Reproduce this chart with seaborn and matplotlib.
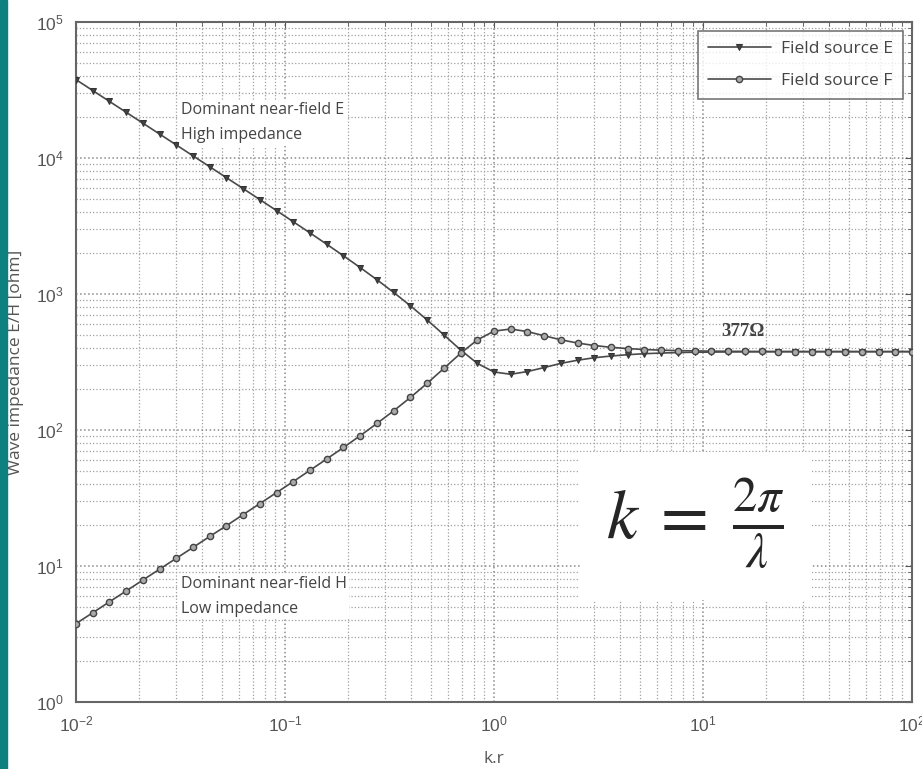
import numpy as np
import pandas as pd
import seaborn as sns
import matplotlib.pyplot as plt
from matplotlib.patches import Rectangle

# k.r sample points
kr = [0.01, 0.01202, 0.01445, 0.01738, 0.02089, 0.02512, 0.0302, 0.03631, 0.04365, 0.05248,
      0.0631, 0.07586, 0.0912, 0.1096, 0.1318, 0.1585, 0.1905, 0.2291, 0.2754, 0.3311,
      0.3981, 0.4786, 0.5754, 0.6918, 0.8318, 1.0, 1.202, 1.445, 1.738, 2.089,
      2.512, 3.02, 3.631, 4.365, 5.248, 6.31, 7.586, 9.12, 10.96, 13.18,
      15.85, 19.05, 22.91, 27.54, 33.11, 39.81, 47.86, 57.54, 69.18, 83.18, 100.0]

# field source E (high impedance near field)
z_e = [37700, 31350, 26080, 21690, 18040, 15000, 12470, 10370, 8620, 7164,
       5951, 4941, 4100, 3397, 2811, 2320, 1909, 1564, 1273, 1027,
       819, 645, 501, 388, 309, 267, 257, 269, 288, 309,
       326, 340, 350, 358, 364, 368, 371, 373, 374, 375,
       375.5, 376, 376.3, 376.5, 376.7, 376.8, 376.8, 376.9, 376.9, 377, 377]

# field source F (low impedance near field)
z_f = [3.77, 4.53, 5.45, 6.55, 7.88, 9.48, 11.4, 13.7, 16.5, 19.8,
       23.9, 28.8, 34.7, 41.8, 50.6, 61.3, 74.4, 90.9, 111.7, 138.4,
       173.5, 220.5, 283.7, 366.1, 459.8, 533.2, 552.8, 529.2, 493, 460.6,
       435.9, 418.1, 405.5, 396.8, 390.7, 386.5, 383.6, 381.5, 380.1, 379.2,
       378.5, 378, 377.7, 377.5, 377.3, 377.2, 377.2, 377.1, 377.1, 377, 377]

df_e = pd.DataFrame({"kr": kr, "Z": z_e})
df_f = pd.DataFrame({"kr": kr, "Z": z_f})

sns.set_style("white")
plt.rcParams["font.family"] = ["Liberation Sans", "DejaVu Sans"]

fig = plt.figure(figsize=(9.22, 7.69), dpi=100)
fig.patches.append(Rectangle((0, 0), 0.0076, 1, transform=fig.transFigure,
                             color="#0f8080", zorder=10))
ax = fig.add_axes([0.0824, 0.0871, 0.9068, 0.8843])

sns.lineplot(data=df_e, x="kr", y="Z", ax=ax, color="#4a4a4a", lw=1.2,
             marker="v", markersize=5, markerfacecolor="#444444",
             markeredgecolor="#333333", label="Field source E", zorder=3)
sns.lineplot(data=df_f, x="kr", y="Z", ax=ax, color="#4a4a4a", lw=1.2,
             marker="o", markersize=4.5, markerfacecolor="#aaaaaa",
             markeredgecolor="#444444", markeredgewidth=1.0,
             label="Field source F", zorder=3)

ax.set_xscale("log")
ax.set_yscale("log")
ax.set_xlim(1e-2, 1e2)
ax.set_ylim(1e0, 1e5)

ax.grid(True, which="major", ls=":", lw=1.1, color="#8a8a8a")
ax.grid(True, which="minor", ls=":", lw=0.9, color="#a0a0a0")
ax.tick_params(which="both", direction="in", top=True, right=True,
               colors="#555555", labelcolor="#555555")
ax.tick_params(which="major", length=5, labelsize=12.5, pad=9)
ax.tick_params(which="minor", length=3)
for s in ax.spines.values():
    s.set_color("#666666")
    s.set_linewidth(1.5)

ax.set_xlabel("k.r", fontsize=12.5, color="#555555", labelpad=12,
              family=["Open Sans", "DejaVu Sans"])
ax.set_ylabel("Wave impedance E/H [ohm]", fontsize=12.5, color="#555555",
              labelpad=8, family=["Open Sans", "DejaVu Sans"])

ann = dict(fontsize=11.5, color="#444444", family=["Open Sans", "DejaVu Sans"],
           linespacing=1.75, va="center", ha="left", zorder=4,
           bbox=dict(facecolor="white", edgecolor="none", pad=1.5))
ax.text(0.0318, 18100, "Dominant near-field E\nHigh impedance", **ann)
ax.text(0.0318, 6.0, "Dominant near-field H\nLow impedance", **ann)

ax.text(15.5, 530, "377\u03a9", fontsize=13.5, fontweight="bold", color="#444444",
        family=["Liberation Serif", "DejaVu Serif"], ha="center", va="center")

ax.add_patch(Rectangle((0.603, 0.150), 0.277, 0.218, transform=ax.transAxes,
                       facecolor="white", edgecolor="none", zorder=5))
ax.text(0.741, 0.262, r"$k\;=\;\frac{2\pi}{\lambda}$", transform=ax.transAxes,
        fontsize=50, math_fontfamily="stix", ha="center", va="center", zorder=6)

leg = ax.legend(loc="upper right", frameon=True, fancybox=False,
                borderaxespad=0.5, borderpad=0.6, handlelength=3.6,
                labelspacing=0.9, handletextpad=0.6,
                prop={"family": ["Open Sans", "DejaVu Sans"], "size": 12.5})
leg.get_frame().set_edgecolor("#555555")
leg.get_frame().set_linewidth(1.2)
for t in leg.get_texts():
    t.set_color("#444444")

fig.savefig("out.png", dpi=100)
